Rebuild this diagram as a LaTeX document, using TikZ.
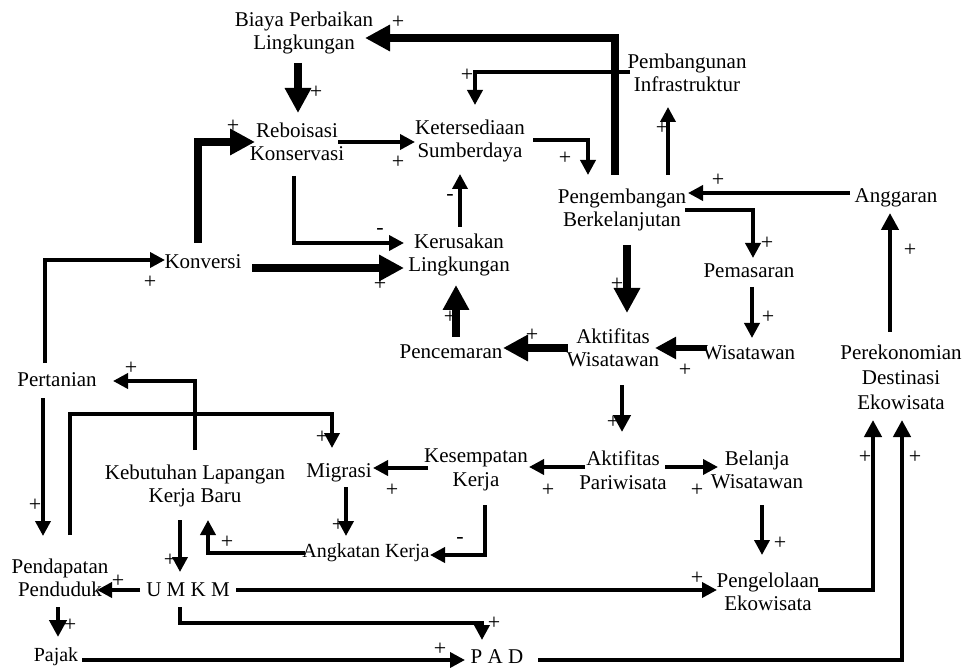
\documentclass[tikz,border=0pt]{standalone}
\usepackage{fontspec}
\setmainfont{Liberation Serif}
\usetikzlibrary{arrows.meta,calc}
\begin{document}
\begin{tikzpicture}[x=1pt,y=-1pt,
  lbl/.style={inner sep=0pt,align=center,font=\fontsize{21}{23.5}\selectfont},
  sgn/.style={inner sep=0pt,font=\fontsize{22}{22}\selectfont},
  thinarrow/.style={line width=3.6pt,line join=miter,-{Triangle[length=15pt,width=15pt]}},
  midarrow/.style={line width=4.6pt,line join=miter,-{Triangle[length=17pt,width=17pt]}},
  semiarrow/.style={line width=6pt,line join=miter,-{Triangle[length=21pt,width=21pt]}},
  boldarrow/.style={line width=8.5pt,line join=miter,-{Triangle[length=25pt,width=25pt]}}]
\fill[white] (0,0) rectangle (964,668);
\useasboundingbox (0,0) rectangle (964,668);

% variables of the model
\node[lbl] (biaya) at (304,33) {Biaya Perbaikan\\Lingkungan};
\node[lbl] (rebo) at (297,142) {Reboisasi\\Konservasi};
\node[lbl] (keter) at (470,141) {Ketersediaan\\Sumberdaya};
\node[lbl] (pemb) at (687,73) {Pembangunan\\Infrastruktur};
\node[lbl] (peng) at (622,210) {Pengembangan\\Berkelanjutan};
\node[lbl] (angg) at (896,198) {Anggaran};
\node[lbl] (konv) at (203,262) {Konversi};
\node[lbl] (kerus) at (459,255) {Kerusakan\\Lingkungan};
\node[lbl] (pemas) at (749,271) {Pemasaran};
\node[lbl] (pence) at (451,352) {Pencemaran};
\node[lbl] (aktw) at (613,348) {Aktifitas\\Wisatawan};
\node[lbl] (wisa) at (749,353) {Wisatawan};
\node[lbl,font=\fontsize{21}{25}\selectfont] (perek) at (901,377) {Perekonomian\\Destinasi\\Ekowisata};
\node[lbl] (pert) at (57,380) {Pertanian};
\node[lbl] (kebut) at (195,486) {Kebutuhan Lapangan\\Kerja Baru};
\node[lbl] (migr) at (339,473) {Migrasi};
\node[lbl] (kesem) at (476,470) {Kesempatan\\Kerja};
\node[lbl] (aktp) at (623,470) {Aktifitas\\Pariwisata};
\node[lbl] (belan) at (757,470) {Belanja\\Wisatawan};
\node[lbl,font=\fontsize{20}{23.5}\selectfont] (angk) at (366,553) {Angkatan Kerja};
\node[lbl] (pend) at (60,578) {Pendapatan\\Penduduk};
\node[lbl] (umkm) at (188,590) {U M K M};
\node[lbl] (pengel) at (768,592) {Pengelolaan\\Ekowisata};
\node[lbl,font=\fontsize{20}{23.5}\selectfont] (pajak) at (56,657) {Pajak};
\node[lbl] (pad) at (497,657) {P A D};

% strong causal links
\draw[boldarrow] ($(peng)+(-7,-35)$) |- ($(biaya)+(61,5)$);
\draw[boldarrow] ($(biaya)+(-6,30)$) -- ($(rebo)+(1,-29)$);
\draw[boldarrow] ($(peng)+(5,35)$) -- ($(aktw)+(14,-35)$);
\draw[boldarrow] ($(aktw)+(-45,0)$) -- ($(pence)+(52,-4)$);
\draw[boldarrow] ($(pence)+(5,-15)$) -- ($(kerus)+(-3,30)$);
\draw[boldarrow] ($(konv)+(49,6)$) -- ($(kerus)+(-55,13)$);
\draw[boldarrow] ($(konv)+(-5,-19)$) |- ($(rebo)+(-42,0)$);
\draw[semiarrow] ($(wisa)+(-42,-5)$) -- ($(aktw)+(42,0)$);

% ordinary causal links
\draw[thinarrow] ($(pemb)+(-57,-1)$) -| ($(keter)+(5,-36)$);
\draw[thinarrow] ($(rebo)+(41,0)$) -- ($(keter)+(-55,1)$);
\draw[thinarrow] ($(keter)+(63,-1)$) -| ($(peng)+(-34,-35)$);
\draw[thinarrow] ($(peng)+(46,-35)$) -- ($(pemb)+(-19,34)$);
\draw[thinarrow] ($(angg)+(-46,-5)$) -- ($(peng)+(66,-17)$);
\draw[thinarrow] ($(peng)+(63,0)$) -| ($(pemas)+(4,-13)$);
\draw[midarrow] ($(perek)+(-11,-45)$) -- ($(angg)+(-6,15)$);
\draw[thinarrow] ($(pemas)+(3,16)$) -- ($(wisa)+(3,-15)$);
\draw[thinarrow] ($(kerus)+(1,-28)$) -- ($(keter)+(-10,33)$);
\draw[thinarrow] ($(rebo)+(-3,34)$) |- ($(kerus)+(-55,-12)$);
\draw[thinarrow] ($(pert)+(-12,-17)$) |- ($(konv)+(-38,-2)$);
\draw[thinarrow] ($(kebut)+(0,-36)$) |- ($(pert)+(56,1)$);
\draw[thinarrow] ($(pend)+(10,-43)$) |- ($(migr)+(-7,-59)$) -- ($(migr)+(-7,-25)$);
\draw[thinarrow] ($(pert)+(-14,18)$) -- ($(pend)+(-17,-42)$);
\draw[thinarrow] ($(kesem)+(-48,-2)$) -- ($(migr)+(34,-5)$);
\draw[thinarrow] ($(migr)+(7,14)$) -- ($(angk)+(-20,-17)$);
\draw[thinarrow] ($(aktp)+(-38,-3)$) -- ($(kesem)+(53,-3)$);
\draw[midarrow] ($(aktw)+(9,37)$) -- ($(aktp)+(-1,-38)$);
\draw[thinarrow] ($(aktp)+(42,-3)$) -- ($(belan)+(-39,-3)$);
\draw[thinarrow] ($(kesem)+(9,35)$) |- ($(angk)+(64,2)$);
\draw[thinarrow] ($(belan)+(5,35)$) -- ($(pengel)+(-6,-37)$);
\draw[midarrow] ($(pengel)+(50,-2)$) -| ($(perek)+(-28,43)$);
\draw[midarrow] ($(pad)+(41,3)$) -| ($(perek)+(1,43)$);
\draw[thinarrow] ($(umkm)+(48,0)$) -- ($(pengel)+(-51,-2)$);
\draw[thinarrow] ($(umkm)+(-8,17)$) |- ($(pad)+(-15,-34)$) -- ($(pad)+(-15,-17)$);
\draw[thinarrow] ($(umkm)+(-48,0)$) -- ($(pend)+(37,12)$);
\draw[thinarrow] ($(kebut)+(-15,34)$) -- ($(umkm)+(-8,-18)$);
\draw[thinarrow] ($(angk)+(-61,0)$) -| ($(kebut)+(13,34)$);
\draw[midarrow] ($(pend)+(-2,29)$) -- ($(pajak)+(2,-20)$);
\draw[thinarrow] ($(pajak)+(26,3)$) -- ($(pad)+(-32,3)$);

% link polarities
\node[sgn] (s1) at (398,22) {+};
\node[sgn] (s2) at (467,75) {+};
\node[sgn] (s3) at (316,92) {+};
\node[sgn] (s4) at (398,162) {+};
\node[sgn] (s5) at (565,158) {+};
\node[sgn] (s6) at (662,128) {+};
\node[sgn] (s7) at (718,180) {+};
\node[sgn] (s8) at (767,243) {+};
\node[sgn] (s9) at (910,250) {+};
\node[sgn] (s10) at (617,284) {+};
\node[sgn] (s11) at (768,317) {+};
\node[sgn] (s12) at (685,370) {+};
\node[sgn] (s13) at (532,335) {+};
\node[sgn] (s14) at (450,317) {+};
\node[sgn] (s15) at (450,197) {-};
\node[sgn] (s16) at (380,231) {-};
\node[sgn] (s17) at (380,284) {+};
\node[sgn] (s18) at (233,126) {+};
\node[sgn] (s19) at (150,282) {+};
\node[sgn] (s20) at (131,368) {+};
\node[sgn] (s21) at (322,437) {+};
\node[sgn] (s22) at (35,505) {+};
\node[sgn] (s23) at (392,490) {+};
\node[sgn] (s24) at (338,525) {+};
\node[sgn] (s25) at (548,490) {+};
\node[sgn] (s26) at (613,422) {+};
\node[sgn] (s27) at (697,490) {+};
\node[sgn] (s28) at (460,540) {-};
\node[sgn] (s29) at (780,543) {+};
\node[sgn] (s30) at (865,457) {+};
\node[sgn] (s31) at (915,457) {+};
\node[sgn] (s32) at (697,578) {+};
\node[sgn] (s33) at (494,623) {+};
\node[sgn] (s34) at (118,581) {+};
\node[sgn] (s35) at (170,560) {+};
\node[sgn] (s36) at (227,542) {+};
\node[sgn] (s37) at (70,625) {+};
\node[sgn] (s38) at (440,649) {+};
\end{tikzpicture}
\end{document}
